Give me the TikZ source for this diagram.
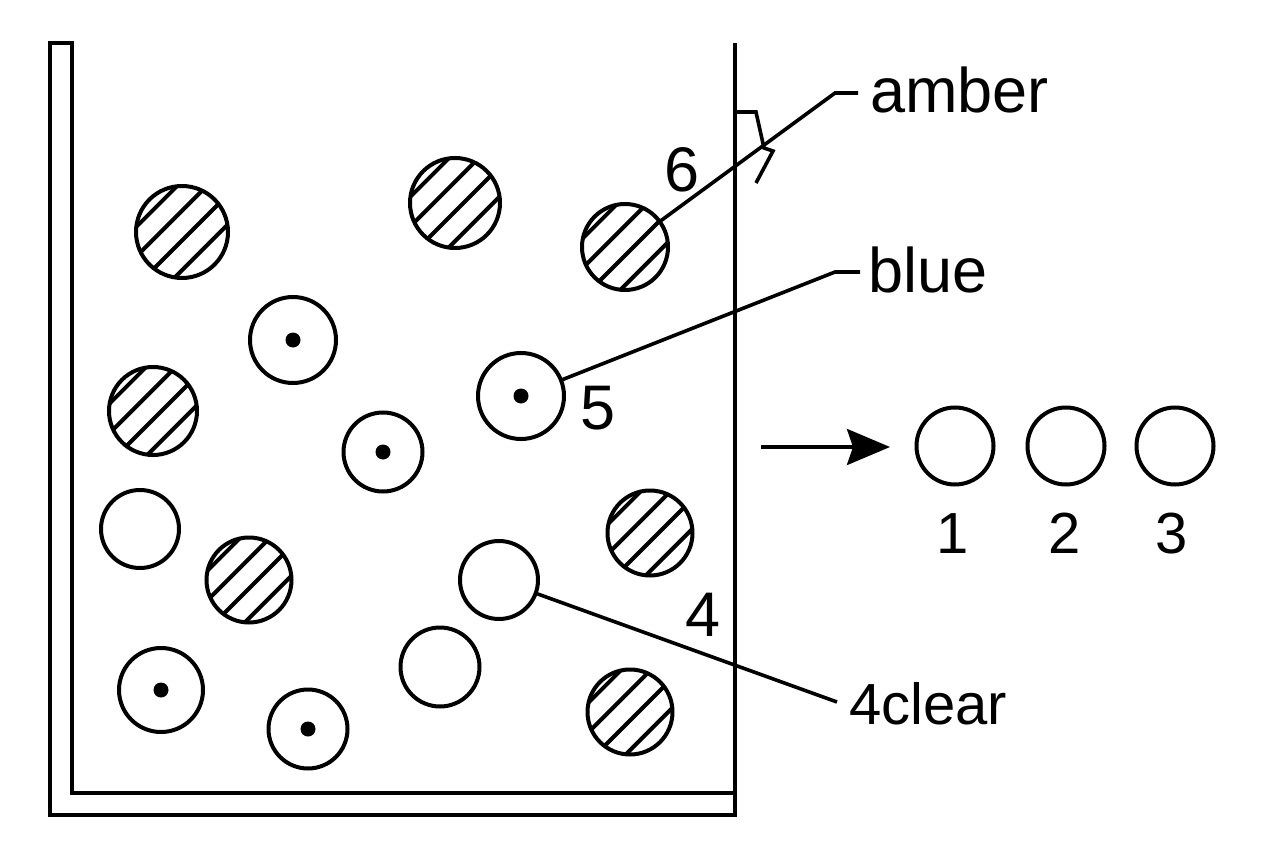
\documentclass[tikz,border=0pt]{standalone}
\usepackage{fontspec}
\setmainfont{Liberation Sans}
\usetikzlibrary{calc,arrows.meta}

\tikzset{
  wall/.style={line width=4pt, line join=miter},
  circ/.style={circle, draw, line width=4pt, inner sep=0pt, outer sep=0pt},
  hatched/.style={circ, path picture={
      \foreach \k in {-5,...,5}{
        \draw[line width=4pt]
          ($(path picture bounding box.center)+(-45:\k*21pt+6pt)$)
          +(225:80pt) -- +(45:80pt);
      }}},
  dotted/.style={circ, path picture={
      \fill (path picture bounding box.center) circle (7.5pt);}},
  leader/.style={line width=3.6pt, line join=miter},
  lab/.style={inner sep=0pt, font=\fontsize{63}{63}\selectfont},
  smalllab/.style={inner sep=0pt, font=\fontsize{58}{58}\selectfont},
}

\begin{document}
\begin{tikzpicture}[x=1pt, y=-1pt]
  \useasboundingbox (0,0) rectangle (1264,848);

  % vessel: double left wall and floor, single right wall
  \coordinate (wTL) at (50,43);
  \coordinate (wTR) at (735,43);
  \draw[wall] (735,793) -- (72,793) -- (72,43) -- (wTL) -- (50,815)
              -- (735,815) -- (wTR);

  % striped particles
  \node[hatched, minimum size=92pt] (h1) at (182,232) {};
  \node[hatched, minimum size=90pt] (h2) at (455,203) {};
  \node[hatched, minimum size=86pt] (h3) at (625,247) {};
  \node[hatched, minimum size=88pt] (h4) at (153,411) {};
  \node[hatched, minimum size=85pt] (h5) at (650,533) {};
  \node[hatched, minimum size=85pt] (h6) at (249,580) {};
  \node[hatched, minimum size=85pt] (h7) at (630,712) {};

  % particles with a dot
  \node[dotted, minimum size=86pt] (d1) at (293,340) {};
  \node[dotted, minimum size=79pt] (d2) at (383,452) {};
  \node[dotted, minimum size=86pt] (d3) at (521,396) {};
  \node[dotted, minimum size=84pt] (d4) at (161,690) {};
  \node[dotted, minimum size=79pt] (d5) at (308,729) {};

  % plain particles
  \node[circ, minimum size=78pt] (p1) at (140,529) {};
  \node[circ, minimum size=78pt] (p2) at (499,580) {};
  \node[circ, minimum size=79pt] (p3) at (440,667) {};

  % small bracket on the right wall
  \draw[leader] (735,112) -- (756,112) -- (764,148) -- (773,151) -- (756,183);

  % leader lines and their labels
  \coordinate (aBend) at (835,93);
  \coordinate (aEnd) at (858,93);
  \draw[leader] (h3) -- (aBend) -- (aEnd);
  \node[lab, anchor=base west] (tAmber) at (870,113) {amber};

  \coordinate (bBend) at (835,272);
  \coordinate (bEnd) at (860,272);
  \draw[leader] (d3) -- (bBend) -- (bEnd);
  \node[lab, anchor=base west] (tBlue) at (868,292) {blue};

  \coordinate (cEnd) at (837,702);
  \draw[leader] (p2) -- (cEnd);
  \node[smalllab, anchor=base west] (tClear) at (849,724) {4clear};

  % numbers inside the vessel
  \node[lab, anchor=base] (n6) at (682,191) {6};
  \node[lab, anchor=base] (n5) at (598,429) {5};
  \node[lab, anchor=base] (n4) at (703,636) {4};

  % arrow and the three separated particles
  \coordinate (arS) at (761,447);
  \coordinate (arE) at (890,447);
  \draw[line width=3.6pt, -{Stealth[length=43pt, width=36pt, inset=6pt]}] (arS) -- (arE);

  \node[circ, minimum size=77pt] (c1) at (955,446) {};
  \node[circ, minimum size=77pt] (c2) at (1066,446) {};
  \node[circ, minimum size=77pt] (c3) at (1175,446) {};
  \node[smalllab, anchor=base] (n1) at (953,553) {1};
  \node[smalllab, anchor=base] (n2) at (1065,553) {2};
  \node[smalllab, anchor=base] (n3) at (1172,553) {3};
\end{tikzpicture}
\end{document}
